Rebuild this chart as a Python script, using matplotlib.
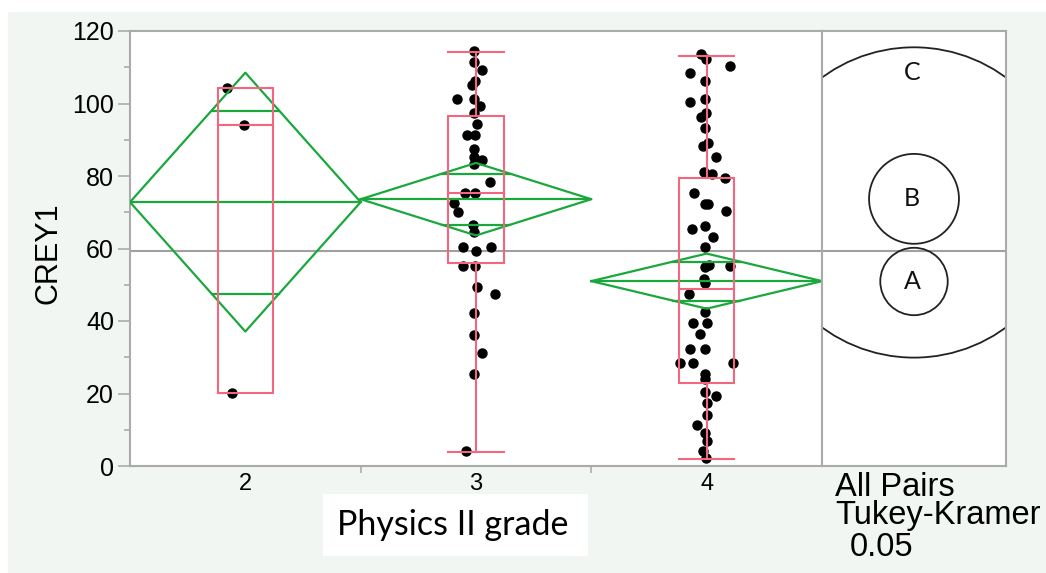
import numpy as np
import matplotlib
matplotlib.use("Agg")
import matplotlib.pyplot as plt
from matplotlib.patches import Rectangle, Circle
from matplotlib.ticker import FixedLocator

plt.rcParams["font.family"] = ["Liberation Sans", "DejaVu Sans"]

# Дані
grades = [2, 3, 4]
grade_labels = ["2", "3", "4"]
means = [72.8, 73.6, 51.0]
ci_half = [35.7, 10.0, 7.6]
grand_mean = 59.4

q1 = [20.1, 55.9, 23.0]
median = [94.1, 75.2, 48.7]
q3 = [104.3, 96.6, 79.5]
whisk_lo = [20.1, 4.0, 1.9]
whisk_hi = [104.3, 114.1, 113.1]

g2_y = [104.3, 94.1, 20.2]
g2_dx = [-0.079, -0.006, -0.058]

g3_y = [114.5, 111.5, 109.2, 106.2, 105.1, 101.3, 101.3, 99.3, 97.5, 94.3,
        91.3, 91.3, 87.4, 85.3, 84.4, 83.2, 78.4, 75.4, 75.4, 72.5,
        70.2, 66.4, 64.5, 60.3, 59.4, 60.3, 55.3, 55.3, 49.3, 47.4,
        42.2, 36.2, 31.3, 25.3, 4.1]
g3_dx = [-0.007, -0.007, 0.025, -0.004, -0.016, -0.084, -0.007, 0.017, -0.007, 0.003,
         -0.040, -0.004, -0.007, -0.007, 0.025, -0.007, 0.061, -0.048, -0.004, -0.094,
         -0.077, -0.012, -0.007, -0.058, 0.0, 0.064, -0.057, -0.004, 0.003, 0.082,
         -0.007, -0.007, 0.025, -0.007, -0.043]

g4_y = [113.6, 112.2, 110.3, 108.5, 106.3, 100.4, 101.3, 97.3, 96.2, 93.3,
        88.3, 89.2, 85.3, 81.2, 80.6, 79.4, 75.4, 72.3, 72.3, 70.3,
        65.3, 66.3, 63.3, 60.3, 55.0, 55.4, 55.3, 51.5, 50.4, 47.4,
        42.4, 39.4, 39.4, 36.4, 32.3, 32.3, 28.3, 28.3, 28.3, 25.4,
        24.0, 20.5, 19.3, 17.3, 14.1, 11.3, 9.0, 7.0, 4.2, 2.1]
g4_dx = [-0.025, -0.003, 0.101, -0.072, -0.007, -0.072, -0.007, -0.003, -0.025, -0.007,
         -0.015, 0.007, 0.040, -0.010, 0.022, 0.079, -0.055, -0.007, 0.007, 0.084,
         -0.062, -0.007, 0.026, -0.007, -0.007, 0.011, 0.101, -0.010, -0.007, -0.077,
         -0.007, -0.058, 0.0, -0.029, -0.072, -0.007, -0.116, -0.058, 0.115, -0.007,
         -0.007, -0.007, 0.040, 0.0, 0.0, -0.043, -0.007, 0.0, -0.015, -0.003]

circle_labels = ["C", "B", "A"]
circle_centers = [72.7, 73.7, 50.9]
circle_radii = [42.8, 12.4, 9.3]

# Кольори
green = "#1aa83c"
pink = "#f2667f"
frame = "#ababab"

W_PX, H_PX = 1046, 573
fig = plt.figure(figsize=(W_PX / 100, H_PX / 100), dpi=100)
fig.patch.set_facecolor("white")
fig.patches.append(Rectangle((8 / W_PX, 0), 1, (H_PX - 12) / H_PX, transform=fig.transFigure,
                             facecolor="#f2f6f2", edgecolor="none", zorder=-10))

left, right, top, bottom = 130, 822, 31, 466
pan_right = 1006
ax_pos = [left / W_PX, 1 - bottom / H_PX, (right - left) / W_PX, (bottom - top) / H_PX]
pan_pos = [right / W_PX, 1 - bottom / H_PX, (pan_right - right) / W_PX, (bottom - top) / H_PX]

ax = fig.add_axes(ax_pos)
ax.set_facecolor("white")
ax.set_xlim(1.5, 4.5)
ax.set_ylim(0, 120)

for s in ax.spines.values():
    s.set_color(frame)
    s.set_linewidth(1.5)

ax.set_yticks(range(0, 121, 20))
ax.yaxis.set_minor_locator(FixedLocator(range(10, 120, 20)))
ax.tick_params(axis="y", which="major", direction="out", length=8.6, width=1.2,
               color=frame, labelsize=18, pad=3)
ax.tick_params(axis="y", which="minor", direction="out", length=4.3, width=1.2, color=frame)
ax.set_xticks(grades)
ax.set_xticklabels(grade_labels)
ax.xaxis.set_minor_locator(FixedLocator([2.5, 3.5]))
ax.tick_params(axis="x", which="major", length=0, labelsize=17, pad=5)
ax.tick_params(axis="x", which="minor", direction="out", length=5, width=1.2, color=frame)

ax.axhline(grand_mean, color="#a0a0a0", lw=1.5, zorder=1)

# Точки
point_sets = [(g2_y, g2_dx), (g3_y, g3_dx), (g4_y, g4_dx)]
for g, (ys, dxs) in zip(grades, point_sets):
    ax.plot(g + np.array(dxs), ys, "o", color="black", ms=6.5, zorder=2)

# Ромби середніх
for g, m, c in zip(grades, means, ci_half):
    ax.plot([g - 0.5, g, g + 0.5, g, g - 0.5], [m, m + c, m, m - c, m], color=green, lw=1.6, zorder=3)
    ax.plot([g - 0.5, g + 0.5], [m, m], color=green, lw=1.6, zorder=3)
    d = c / np.sqrt(2)
    hw = 0.5 * (1 - 1 / np.sqrt(2))
    for yy in (m + d, m - d):
        ax.plot([g - hw, g + hw], [yy, yy], color=green, lw=1.6, zorder=3)

# Коробкові діаграми
bw = 0.24
for i, g in enumerate(grades):
    ax.add_patch(Rectangle((g - bw / 2, q1[i]), bw, q3[i] - q1[i], fill=False,
                           edgecolor=pink, lw=1.5, zorder=3))
    ax.plot([g - bw / 2, g + bw / 2], [median[i]] * 2, color=pink, lw=1.5, zorder=3)
    if whisk_hi[i] > q3[i]:
        ax.plot([g, g], [q3[i], whisk_hi[i]], color=pink, lw=1.5, zorder=3)
        ax.plot([g - bw / 2, g + bw / 2], [whisk_hi[i]] * 2, color=pink, lw=1.5, zorder=3)
    if whisk_lo[i] < q1[i]:
        ax.plot([g, g], [whisk_lo[i], q1[i]], color=pink, lw=1.5, zorder=3)
        ax.plot([g - bw / 2, g + bw / 2], [whisk_lo[i]] * 2, color=pink, lw=1.5, zorder=3)

# Панель кіл порівняння
axp = fig.add_axes(pan_pos)
axp.set_facecolor("white")
xw = 120 * (pan_right - right) / (bottom - top)
axp.set_xlim(0, xw)
axp.set_ylim(0, 120)
axp.set_xticks([])
axp.set_yticks([])
for s in axp.spines.values():
    s.set_color(frame)
    s.set_linewidth(1.5)
axp.axhline(grand_mean, color="#a0a0a0", lw=1.5, zorder=1)
for lab, cy, r in zip(circle_labels, circle_centers, circle_radii):
    axp.add_patch(Circle((xw / 2, cy), r, fill=False, edgecolor="#222222", lw=1.3, zorder=2))
    ty = cy + r - 7 if r > 30 else cy
    axp.text(xw / 2 - 0.5, ty, lab, ha="center", va="center", fontsize=18,
             family="Lato", color="#111111")

# Підписи
fig.text(48 / W_PX, 1 - 253 / H_PX, "CREY1", rotation=90, ha="center", va="center",
         fontsize=22)
fig.patches.append(Rectangle((323 / W_PX, 1 - 556 / H_PX), 265 / W_PX, 62 / H_PX,
                             transform=fig.transFigure, facecolor="white", edgecolor="none", zorder=-5))
fig.text(452.5 / W_PX, 1 - 525 / H_PX, "Physics II grade", ha="center", va="center",
         fontsize=24.5, family="Lato")
fig.text(835 / W_PX, 1 - 496 / H_PX, "All Pairs", ha="left", va="baseline", fontsize=23.5)
fig.text(835 / W_PX, 1 - 524 / H_PX, "Tukey-Kramer", ha="left", va="baseline", fontsize=23.5)
fig.text(850 / W_PX, 1 - 556 / H_PX, "0.05", ha="left", va="baseline", fontsize=23.5)

fig.savefig("out.png", dpi=100)
